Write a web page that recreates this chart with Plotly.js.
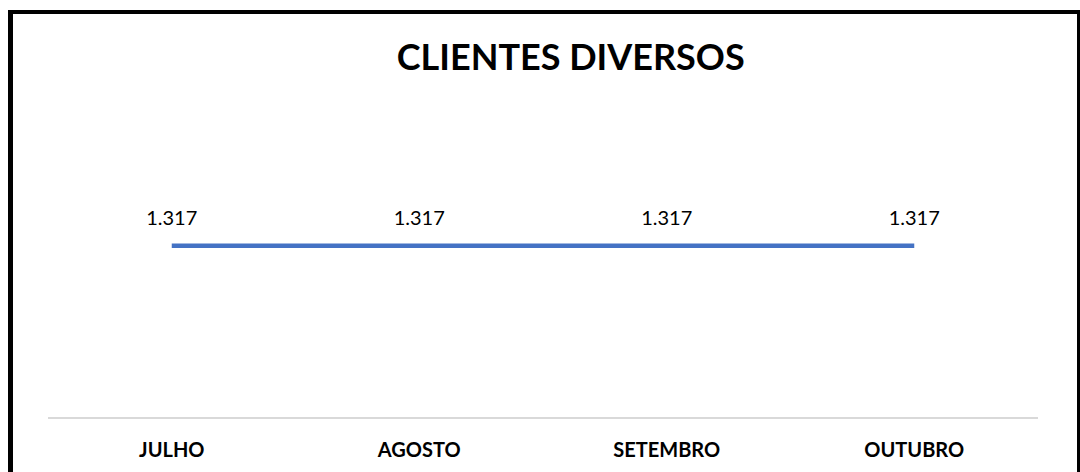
<!DOCTYPE html>
<html>
<head>
<meta charset="utf-8">
<script src="https://cdn.plot.ly/plotly-3.0.1.min.js"></script>
<style>
  html, body { margin: 0; padding: 0; background: #fff; overflow: hidden; }
  #wrap { position: relative; width: 1080px; height: 472px; }
  #chart { position: absolute; left: 0; top: 0; width: 1080px; height: 472px; }
  #frame { position: absolute; left: 8px; top: 10px; width: 1064px; height: 500px;
           border-top: 4px solid #000; border-left: 5px solid #000; border-right: 3px solid #000;
           pointer-events: none; box-sizing: content-box; }
</style>
</head>
<body>
<div id="wrap">
  <div id="chart"></div>
  <div id="frame"></div>
</div>
<script>
const categories = ["JULHO", "AGOSTO", "SETEMBRO", "OUTUBRO"];
const values = [1317, 1317, 1317, 1317];
const labels = ["1.317", "1.317", "1.317", "1.317"];
const chartTitle = "CLIENTES DIVERSOS";

const trace = {
  x: categories,
  y: values,
  type: "scatter",
  mode: "lines+markers+text",
  text: labels,
  textposition: "top center",
  textfont: { family: "Lato, 'Open Sans', sans-serif", size: 20, color: "#000" },
  line: { color: "#4472C4", width: 4.5, shape: "linear" },
  marker: { size: 24, color: "rgba(0,0,0,0)", line: { width: 0 } },
  cliponaxis: false,
  hoverinfo: "skip"
};

const layout = {
  width: 1080,
  height: 472,
  margin: { l: 48, r: 42, t: 110, b: 55 },
  paper_bgcolor: "#ffffff",
  plot_bgcolor: "#ffffff",
  showlegend: false,
  title: {
    text: "<b>" + chartTitle + "</b>",
    font: { family: "Lato, 'Open Sans', sans-serif", size: 36, color: "#000" },
    x: 0.528, xref: "paper", xanchor: "center",
    y: 1 - 57 / 472, yref: "container", yanchor: "middle"
  },
  xaxis: {
    type: "category",
    range: [-0.5, 3.5],
    showgrid: false,
    zeroline: false,
    showline: true,
    linecolor: "#d9d9d9",
    linewidth: 2,
    ticks: "",
    ticklabelstandoff: 14,
    tickfont: { family: "Lato, 'Open Sans', sans-serif", size: 20, color: "#000", weight: "bold" }
  },
  yaxis: {
    range: [0, 2360],
    showgrid: false,
    zeroline: false,
    showline: false,
    showticklabels: false,
    ticks: ""
  }
};

Plotly.newPlot("chart", [trace], layout, { displayModeBar: false, staticPlot: true });
</script>
</body>
</html>
